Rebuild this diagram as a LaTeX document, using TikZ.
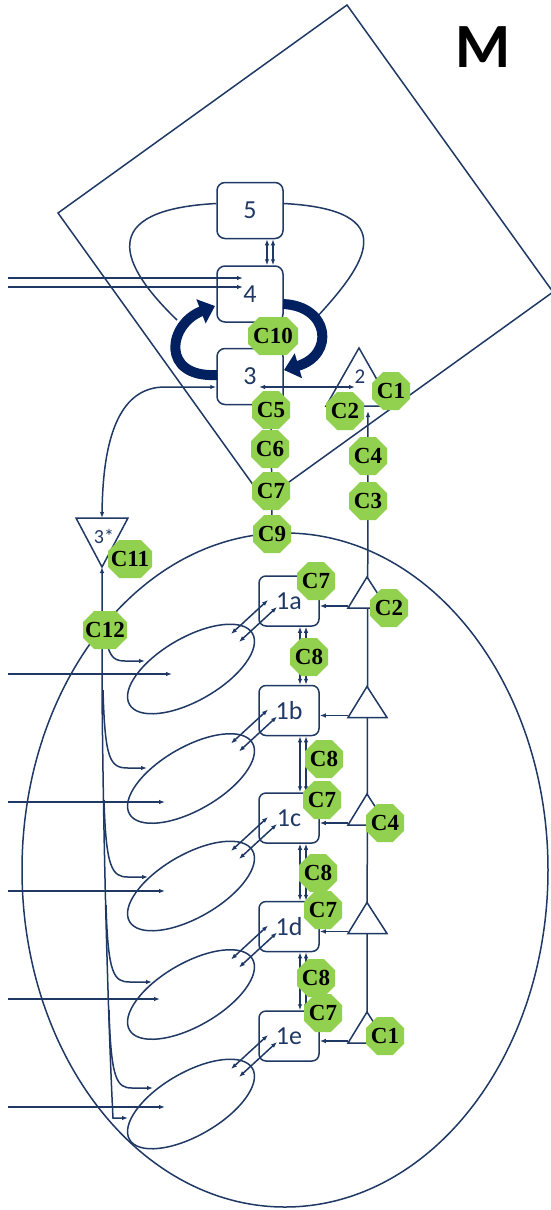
\documentclass[tikz,border=0pt]{standalone}
\usepackage{fontspec}
\setmainfont{Carlito}
\newfontfamily\tagfont{Liberation Serif}
\usetikzlibrary{arrows.meta,shapes.geometric,calc}
\definecolor{ink}{RGB}{31,56,100}
\definecolor{deepnavy}{RGB}{0,32,96}
\definecolor{leaf}{RGB}{146,208,80}
\begin{document}
\begin{tikzpicture}[x=1pt,y=-1pt,color=ink,line width=1.5pt,
  >={Latex[length=6pt,width=4.5pt]},
  box/.style={draw,rounded corners=8pt,minimum width=66pt,minimum height=56pt,inner sep=0pt,font=\fontsize{26}{26}\selectfont},
  sbox/.style={draw,rounded corners=7pt,minimum width=60pt,minimum height=50pt,inner sep=0pt,font=\fontsize{26}{26}\selectfont},
  blob/.style={draw,ellipse,minimum width=142pt,minimum height=63pt,inner sep=0pt,rotate=30},
  tagtext/.style={inner sep=0pt,text=black,font=\tagfont\bfseries\fontsize{23}{23}\selectfont},
  octfill/.style={fill=leaf},
  bigarrow/.style={deepnavy,line width=10pt,-{Triangle[length=15pt,width=25pt]}}
]
\useasboundingbox (0,0) rectangle (551,1210);

% tilted frame round the upper compartment
\coordinate (sqL) at (58,213);
\coordinate (sqT) at (347,5);
\coordinate (sqR) at (553,292);
\coordinate (sqB) at (264,500);
\draw (sqL) -- (sqT) -- (sqR) -- (sqB) -- cycle;

% large cell outline
\node[draw,ellipse,minimum width=526pt,minimum height=674pt,inner sep=0pt] (cell) at (285,870) {};

\node[font=\bfseries\fontsize{63}{63}\selectfont,text=black] (mark) at (483,47) {M};

% upper stack 5 / 4 / 3
\node[box] (b5) at (250,210.5) {5};
\node[box] (b4) at (250,294) {4};
\node[box] (b3) at (250,376.5) {3};

\foreach \dx in {17,23}{
  \draw[<->] ([xshift=\dx pt]b5.south) -- ([xshift=\dx pt]b4.north);
  \draw[<->] ([xshift=\dx pt]b4.south) -- ([xshift=\dx pt]b3.north);
}

% inputs into 4
\coordinate (in4a) at (8,278);
\coordinate (in4b) at (8,287);
\coordinate (to4a) at (243,278);
\coordinate (to4b) at (243,287);
\draw[->] (in4a) -- (to4a);
\draw[->] (in4b) -- (to4b);

% loop round 5
\coordinate (lpL) at (177,320);
\coordinate (lpR) at (316,318);
\draw ([yshift=7pt]b5.west) .. controls (95,210) and (120,265) .. (lpL);
\draw ([yshift=7pt]b5.east) .. controls (405,210) and (365,265) .. (lpR);

% heavy cycling arrows between 4 and 3
\coordinate (hl0) at (217,375);
\coordinate (hl1) at (215,306);
\coordinate (hr0) at (283,304);
\coordinate (hr1) at (284,370);
\draw[bigarrow] (hl0) .. controls (160,378) and (168,324) .. (hl1);
\draw[bigarrow] (hr0) .. controls (330,306) and (335,355) .. (hr1);

% triangle 2
\coordinate (t2l) at (326,406);
\coordinate (t2a) at (359,348);
\coordinate (t2r) at (392,406);
\draw (t2l) -- (t2a) -- (t2r) -- cycle;
\node[font=\fontsize{21}{21}\selectfont] (lab2) at (360,377) {2};
\coordinate (a32l) at (259,387);
\coordinate (a32r) at (355,387);
\draw[<->] (a32l) -- (a32r);

% triangle 3*
\coordinate (s3l) at (76,518);
\coordinate (s3r) at (128,518);
\coordinate (s3a) at (102,567);
\coordinate (s3top) at (102,518);
\draw (s3l) -- (s3r) -- (s3a) -- cycle;
\node[font=\fontsize{20}{20}\selectfont] (lab3s) at (104,536) {3*};
\draw[<->] ([yshift=-10.5pt]b3.west) -- (165,387) .. controls (128,387) and (103,420) .. (s3top);

% stalk from 3 down to the cell
\coordinate (stalk) at (271,405);
\coordinate (c9pos) at (272,534);
\draw (stalk) -- (c9pos);

% lower boxes, ellipses and their links
\foreach \n/\y in {a/601,b/710.5,c/818,d/926.5,e/1036}{
  \node[sbox] (s\n) at (289,\y) {1\n};
  \node[blob] (e\n) at (191,\y+68) {};
  \draw[<->] ([shift={(-58,33)}]s\n.center) -- ([shift={(-21,-1)}]s\n.center);
  \draw[<->] ([shift={(-50,41)}]s\n.center) -- ([shift={(-12,6)}]s\n.center);
}
\foreach \u/\v in {a/b,b/c,c/d,d/e}{
  \draw[<->] ([xshift=11pt]s\u.south) -- ([xshift=11pt]s\v.north);
  \draw[<->] ([xshift=17pt]s\u.south) -- ([xshift=17pt]s\v.north);
}

% inputs into the ellipses
\foreach \y/\x in {674/172,802/165,891/165,999/160,1107/165}{
  \draw[->] (8,\y) -- (\x,\y);
}

% right-hand chain of triangles
\coordinate (chainTop) at (368,411);
\coordinate (chainBot) at (367,1012);
\draw[->] (chainBot) -- (chainTop);
\foreach \n/\y in {a/601,b/710.5,c/818,d/926.5,e/1036}{
  \coordinate (ql\n) at (348,\y+7);
  \coordinate (qa\n) at (367,\y-24);
  \coordinate (qr\n) at (387,\y+7);
  \draw[fill=white] (ql\n) -- (qa\n) -- (qr\n) -- cycle;
  \draw[->] ([yshift=2pt]ql\n) -- ([yshift=2pt]ql\n -| s\n.east);
}

% feed line from 3* down the left side
\coordinate (mv1) at (102,690);
\coordinate (mv2) at (113,1118);
\coordinate (mvend) at (128,1118);
\draw[<->] (s3a) -- (mv1) .. controls (104,900) and (110,1060) .. (mv2) -- (mvend);
\coordinate (c12pos) at (105,630);
\draw[->] (c12pos) .. controls (108,655) and (112,661) .. (125,661) -- (145,661);
\draw[->] (103,690) .. controls (105,760) and (110,768) .. (128,768) -- (147,768);
\draw[->] (104,800) .. controls (106,868) and (112,877) .. (128,877) -- (148,877);
\draw[->] (106,905) .. controls (108,975) and (114,982) .. (130,982) -- (152,982);
\draw[->] (109,1010) .. controls (111,1080) and (117,1088) .. (132,1088) -- (153,1088);

% green octagonal markers: name / x / y / width / text
\foreach \nm/\x/\y/\w/\t in {
  C10/273/336/50/C10, C5/271/410/38/C5, C6/270/449/38/C6, C7u/271/491/38/C7,
  C9/272/534/38/C9, C1u/391/391/38/C1, C2u/345/411/38/C2, C4u/368/456/38/C4,
  C3/368/501/38/C3, C11/130/559/44/C11, C12/105/630/44/C12,
  C7a/316/581/38/C7, C2a/389/608/38/C2, C8a/309/657/38/C8, C8b/324/759/38/C8,
  C7c/322/800/38/C7, C4c/385/823/38/C4, C8c/318/873/38/C8, C7d/323/910/38/C7,
  C8d/316/978/38/C8, C7e/323/1013/38/C7, C1e/385/1036/38/C1}{
  \pgfmathsetmacro\hw{\w/2}
  \fill[octfill] (\x-\hw+11.1,\y-19) -- (\x+\hw-11.1,\y-19) -- (\x+\hw,\y-7.9)
    -- (\x+\hw,\y+7.9) -- (\x+\hw-11.1,\y+19) -- (\x-\hw+11.1,\y+19)
    -- (\x-\hw,\y+7.9) -- (\x-\hw,\y-7.9) -- cycle;
  \node[tagtext] (\nm) at (\x,\y) {\t};
}
\end{tikzpicture}
\end{document}
